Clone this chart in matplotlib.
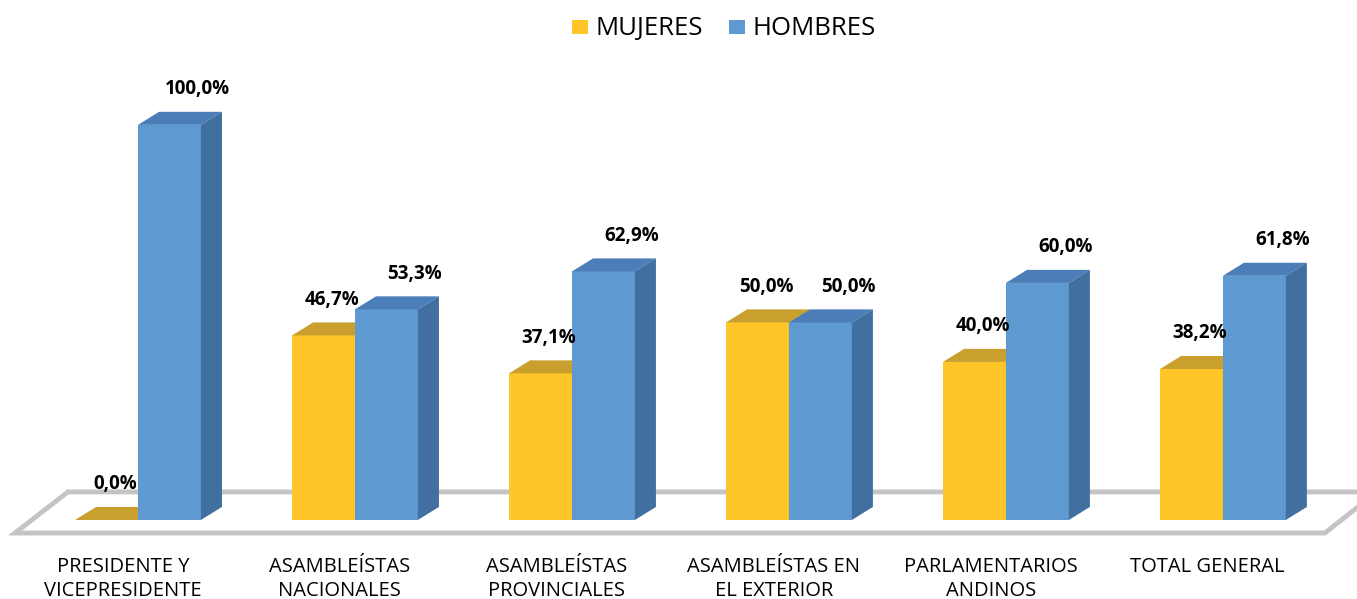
import numpy as np
import matplotlib.pyplot as plt
from matplotlib.patches import Polygon, Rectangle

categorias = ['PRESIDENTE Y\nVICEPRESIDENTE', 'ASAMBLEÍSTAS\nNACIONALES',
              'ASAMBLEÍSTAS\nPROVINCIALES', 'ASAMBLEÍSTAS EN\nEL EXTERIOR',
              'PARLAMENTARIOS\nANDINOS', 'TOTAL GENERAL']
mujeres = [0.0, 46.7, 37.1, 50.0, 40.0, 38.2]
hombres = [100.0, 53.3, 62.9, 50.0, 60.0, 61.8]

plt.rcParams['font.family'] = ['Open Sans', 'DejaVu Sans']

fig = plt.figure(figsize=(13.57, 5.99), dpi=100)
ax = fig.add_axes([0, 0, 1, 1])
ax.set_xlim(-0.636, 5.618)
ax.set_ylim(-20, 131.6)
ax.axis('off')

w = 0.29     # bar width
dx = 0.097   # depth in x
dy = 3.3     # depth in y

# floor
floor = Polygon([(-0.567, -3.3), (5.47, -3.3), (5.71, 7.1), (-0.323, 7.1)],
                closed=True, facecolor='white', edgecolor='#c4c4c4', lw=3.5, zorder=1)
ax.add_patch(floor)


def bar3d(x0, h, front, top, side):
    ax.add_patch(Rectangle((x0, 0), w, h, facecolor=front, edgecolor='none', zorder=3))
    ax.add_patch(Polygon([(x0, h), (x0 + w, h), (x0 + w + dx, h + dy), (x0 + dx, h + dy)],
                         closed=True, facecolor=top, edgecolor='none', zorder=3))
    ax.add_patch(Polygon([(x0 + w, 0), (x0 + w + dx, dy), (x0 + w + dx, h + dy), (x0 + w, h)],
                         closed=True, facecolor=side, edgecolor='none', zorder=3))


def fmt(v):
    return ('%.1f%%' % v).replace('.', ',')


x = np.arange(len(categorias))
for i in x:
    bar3d(i - w, mujeres[i], '#FFC629', '#C9A02E', '#C9A02E')
    bar3d(i, hombres[i], '#5F99D2', '#4B7EB9', '#416FA0')
    ax.text(i - w / 2 + 0.04, mujeres[i] + 9, fmt(mujeres[i]),
            ha='center', va='center', fontsize=13.5, fontweight='bold', zorder=5)
    ax.text(i + w / 2 + 0.13, hombres[i] + 9, fmt(hombres[i]),
            ha='center', va='center', fontsize=13.5, fontweight='bold', zorder=5)
    ax.text(i - 0.07, -9.3, categorias[i], ha='center', va='top',
            fontsize=14.5, linespacing=1.3)

# legend
ax.add_patch(Rectangle((-0.636 + 572 / 217, 100 * (520 - 34) / 395), 16 / 217, 14 / 3.95,
                       facecolor='#FFC629', edgecolor='none'))
ax.text(-0.636 + 596 / 217, 100 * (520 - 29) / 395, 'MUJERES', ha='left', va='center', fontsize=18.5)
ax.add_patch(Rectangle((-0.636 + 729 / 217, 100 * (520 - 34) / 395), 16 / 217, 14 / 3.95,
                       facecolor='#5F99D2', edgecolor='none'))
ax.text(-0.636 + 753 / 217, 100 * (520 - 29) / 395, 'HOMBRES', ha='left', va='center', fontsize=18.5)

fig.savefig('out.png', dpi=100)
